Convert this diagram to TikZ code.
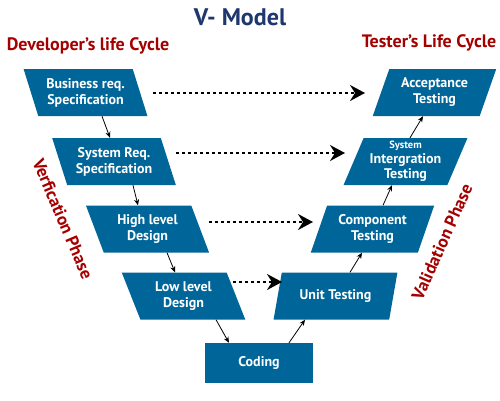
\documentclass[tikz,border=0pt]{standalone}
\usepackage{fontspec}
\setmainfont{PT Sans}
\usetikzlibrary{shapes.geometric,arrows.meta,calc}
\definecolor{vblue}{RGB}{0,102,153}
\definecolor{vred}{RGB}{165,0,0}
\definecolor{vnavy}{RGB}{30,55,110}
\begin{document}
\begin{tikzpicture}[x=1pt,y=-1pt,
  box/.style={fill=vblue, text=white, font=\bfseries\fontsize{14}{16}\selectfont, align=center, inner sep=0pt},
  devbox/.style={box, trapezium, trapezium left angle=113, trapezium right angle=67, trapezium stretches=true, minimum width=124pt, minimum height=47pt},
  testbox/.style={box, trapezium, trapezium left angle=67, trapezium right angle=113, trapezium stretches=true, minimum width=124pt, minimum height=47pt},
  flow/.style={line width=0.8pt, -{Stealth[length=6pt,width=5pt]}},
  link/.style={line width=2pt, dash pattern=on 3pt off 3pt, -{Stealth[length=15pt,width=16pt,inset=5pt]}},
  head/.style={text=vred, font=\bfseries\fontsize{18}{20}\selectfont},
  phase/.style={text=vred, font=\bfseries\fontsize{17.5}{19}\selectfont}]
\useasboundingbox (0,0) rectangle (500,400);
\node[text=vnavy, font=\bfseries\fontsize{24}{26}\selectfont] (title) at (240,17) {V- Model};
\node[head] (dev) at (88,46) {Developer’s life Cycle};
\node[head] (test) at (429,43) {Tester’s Life Cycle};
\node[phase, rotate=-67] (ver) at (63,219) {Verfication Phase};
\node[phase, rotate=66] (val) at (442,242) {Validation Phase};

\node[devbox] (bus) at (85.5,92.5) {Business req.\\Specification};
\node[devbox] (sys) at (114,161.5) {System Req.\\Specification};
\node[devbox] (high) at (147.5,229) {High level\\Design};
\node[devbox] (low) at (183.5,296) {Low level\\Design};
\node[box, minimum width=108pt, minimum height=40pt] (cod) at (259,363) {Coding};
\node[testbox] (unit) at (335.5,296) {Unit Testing};
\node[testbox] (comp) at (372.5,229) {Component\\Testing};
\node[testbox, font=\bfseries\fontsize{14}{15}\selectfont] (sit) at (405.5,161.5) {{\fontsize{10.5}{11}\selectfont System}\\Intergration\\Testing};
\node[testbox] (acc) at (434.5,92.5) {Acceptance\\Testing};

\draw[flow] ($(bus.south)+(16.5,0)$) -- ($(sys.north)+(-4,0)$);
\draw[flow] ($(sys.south)+(19,0)$) -- ($(high.north)+(-9.5,0)$);
\draw[flow] ($(high.south)+(19.5,0)$) -- ($(low.north)+(-8.5,0)$);
\draw[flow] ($(low.south)+(32.5,0)$) -- ($(cod.north)+(-30,0)$);
\draw[flow] ($(cod.north)+(30,0)$) -- ($(unit.south)+(-30.5,0)$);
\draw[flow] ($(unit.north)+(14.5,0)$) -- ($(comp.south)+(-10.5,0)$);
\draw[flow] ($(comp.north)+(10.5,0)$) -- ($(sit.south)+(-13.5,0)$);
\draw[flow] ($(sit.north)+(4.5,0)$) -- ($(acc.south)+(-11.5,0)$);

\draw[link] ($(bus.center)+(67.5,0.5)$) -- ($(acc.center)+(-69.5,0.5)$);
\draw[link] ($(sys.center)+(62,-8.5)$) -- ($(sit.center)+(-60.5,-8.5)$);
\draw[link] ($(high.center)+(61.5,-7)$) -- ($(comp.center)+(-59.5,-7)$);
\draw[link] ($(low.center)+(49.5,-14)$) -- ($(unit.center)+(-53.5,-14)$);
\end{tikzpicture}
\end{document}
